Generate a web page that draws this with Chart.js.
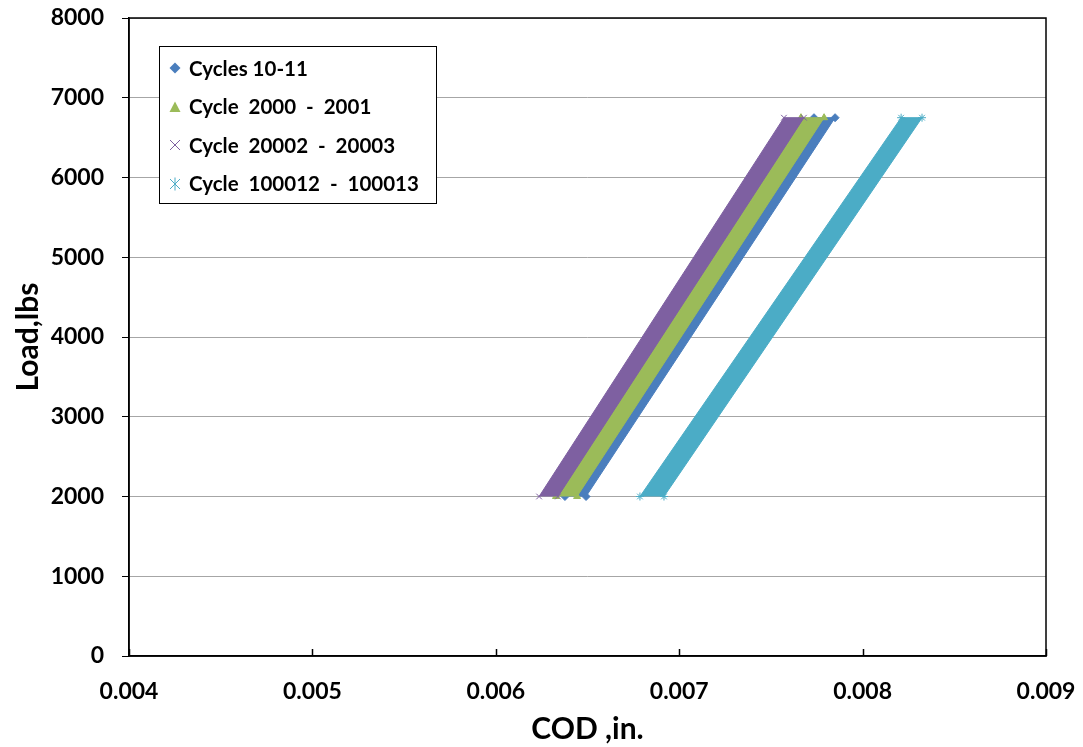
<!DOCTYPE html>
<html>
<head>
<meta charset="utf-8">
<script src="https://cdn.jsdelivr.net/npm/chart.js@4/dist/chart.umd.min.js"></script>
<style>
  html, body { margin: 0; padding: 0; background: #ffffff; }
  #wrap { width: 1083px; height: 747px; position: relative; }
</style>
</head>
<body>
<div id="wrap"><canvas id="c" width="1083" height="747"></canvas></div>
<script>
// Load range of every recorded loop: minimum and peak load (lbs)
const LOADS = [2000, 6750];

// Crack-opening displacement (in.) at the minimum and peak load,
// on the loading branch and on the unloading branch of each loop
const CYC_10_LOADING     = [0.006377, 0.007735];
const CYC_10_UNLOADING   = [0.006492, 0.007850];
const CYC_2000_LOADING   = [0.006328, 0.007664];
const CYC_2000_UNLOADING = [0.006443, 0.007790];
const CYC_20002_LOADING   = [0.006236, 0.007571];
const CYC_20002_UNLOADING = [0.006339, 0.007680];
const CYC_100012_LOADING   = [0.006786, 0.008210];
const CYC_100012_UNLOADING = [0.006917, 0.008324];

const SERIES_NAMES = [
  'Cycles 10-11',
  'Cycle  2000  -  2001',
  'Cycle  20002  -  20003',
  'Cycle  100012  -  100013'
];

const X_TICKS = [0.004, 0.005, 0.006, 0.007, 0.008, 0.009];
const Y_TICKS = [0, 1000, 2000, 3000, 4000, 5000, 6000, 7000, 8000];

const FONT = 'Lato, "Open Sans", "DejaVu Sans", sans-serif';
const COLORS = ['#4a7ebd', '#9bbb59', '#7e60a1', '#4bacc6'];
const MARKERS = ['diamond', 'triangle', 'x', 'asterisk'];

// A closed loop: up the loading branch, back down the unloading branch
function loop(loading, unloading) {
  const pts = [];
  for (let i = 0; i < LOADS.length; i++) pts.push({ x: loading[i], y: LOADS[i] });
  for (let i = LOADS.length - 1; i >= 0; i--) pts.push({ x: unloading[i], y: LOADS[i] });
  return pts;
}

// Small marker images used in the legend
function markerCanvas(kind, color) {
  const s = 16, c = document.createElement('canvas');
  c.width = s; c.height = s;
  const g = c.getContext('2d');
  const m = s / 2;
  g.fillStyle = color; g.strokeStyle = color; g.lineWidth = 1;
  if (kind === 'diamond') {
    g.beginPath(); g.moveTo(m, m - 5.5); g.lineTo(m + 5.5, m); g.lineTo(m, m + 5.5); g.lineTo(m - 5.5, m); g.closePath(); g.fill();
  } else if (kind === 'triangle') {
    g.beginPath(); g.moveTo(m, m - 5.5); g.lineTo(m + 5.5, m + 5); g.lineTo(m - 5.5, m + 5); g.closePath(); g.fill();
  } else if (kind === 'x') {
    g.beginPath(); g.moveTo(m - 5, m - 5); g.lineTo(m + 5, m + 5); g.moveTo(m + 5, m - 5); g.lineTo(m - 5, m + 5); g.stroke();
  } else {
    g.beginPath(); g.moveTo(m - 5, m - 5); g.lineTo(m + 5, m + 5); g.moveTo(m + 5, m - 5); g.lineTo(m - 5, m + 5);
    g.moveTo(m, m - 6.5); g.lineTo(m, m + 6.5); g.stroke();
  }
  return c;
}
const LEGEND_MARKERS = MARKERS.map((k, i) => markerCanvas(k, COLORS[i]));

const LOOPS = [
  loop(CYC_10_LOADING, CYC_10_UNLOADING),
  loop(CYC_2000_LOADING, CYC_2000_UNLOADING),
  loop(CYC_20002_LOADING, CYC_20002_UNLOADING),
  loop(CYC_100012_LOADING, CYC_100012_UNLOADING)
];
const POINT_STYLES = ['rectRot', 'triangle', 'crossRot', 'star'];

const datasets = LOOPS.map((pts, i) => ({
  label: SERIES_NAMES[i],
  data: pts,
  showLine: true,
  fill: 'shape',
  backgroundColor: COLORS[i],
  borderColor: COLORS[i],
  borderWidth: 1,
  pointStyle: POINT_STYLES[i],
  pointRadius: 4,
  pointBackgroundColor: COLORS[i],
  pointBorderColor: COLORS[i],
  pointBorderWidth: 1,
  // later cycles are painted over earlier ones
  order: LOOPS.length - i
}));

// Frame, inward x ticks and the boxed legend
const framePlugin = {
  id: 'frame',
  afterDraw(chart) {
    const { ctx, chartArea: a, scales } = chart;
    ctx.save();
    ctx.strokeStyle = '#000000';
    ctx.lineWidth = 1.5;
    ctx.strokeRect(a.left, a.top, a.right - a.left, a.bottom - a.top);
    X_TICKS.forEach(v => {
      const px = Math.round(scales.x.getPixelForValue(v)) + 0.5;
      ctx.beginPath(); ctx.moveTo(px, a.bottom); ctx.lineTo(px, a.bottom - 7); ctx.stroke();
    });

    // legend
    const lx = 159.5, ly = 46.5, lw = 277, lh = 157;
    ctx.fillStyle = '#ffffff';
    ctx.fillRect(lx, ly, lw, lh);
    ctx.lineWidth = 1;
    ctx.strokeStyle = '#000000';
    ctx.strokeRect(lx, ly, lw, lh);
    ctx.font = 'bold 20.5px ' + FONT;
    ctx.textBaseline = 'middle';
    ctx.textAlign = 'left';
    ctx.fillStyle = '#000000';
    chart.data.datasets.forEach((ds, i) => {
      const cy = 68 + i * 38.5;
      ctx.drawImage(LEGEND_MARKERS[i], 175 - 8, Math.round(cy) - 8);
      ctx.fillText(ds.label, 189, cy + 1);
    });
    ctx.restore();
  }
};

new Chart(document.getElementById('c'), {
  type: 'scatter',
  data: { datasets },
  plugins: [framePlugin],
  options: {
    responsive: false,
    animation: false,
    events: [],
    layout: { padding: { top: 18, right: 37, left: 0, bottom: 0 } },
    plugins: { legend: { display: false }, tooltip: { enabled: false } },
    scales: {
      x: {
        type: 'linear',
        min: 0.004, max: 0.009,
        afterBuildTicks: s => { s.ticks = X_TICKS.map(v => ({ value: v })); },
        afterFit: s => { s.height = 91; s.paddingLeft = 0; s.paddingRight = 0; },
        ticks: {
          callback: v => v.toFixed(3),
          color: '#000000',
          font: { family: FONT, size: 23, weight: 'bold' },
          padding: 22,
          maxRotation: 0
        },
        grid: { drawOnChartArea: false, drawTicks: false },
        border: { color: '#000000', width: 1.5 },
        title: {
          display: true, text: 'COD ,in.', color: '#000000',
          font: { family: FONT, size: 30, weight: 'bold' },
          padding: { top: 0, bottom: 0 }
        }
      },
      y: {
        type: 'linear',
        min: 0, max: 8000,
        afterBuildTicks: s => { s.ticks = Y_TICKS.map(v => ({ value: v })); },
        afterFit: s => { s.width = 129; s.paddingTop = 0; s.paddingBottom = 0; },
        ticks: {
          callback: v => String(v),
          color: '#000000',
          font: { family: FONT, size: 23, weight: 'bold' },
          padding: 18
        },
        grid: { color: '#a6a6a6', lineWidth: 1, tickLength: 7, tickColor: '#000000' },
        border: { color: '#000000', width: 1.5 },
        title: {
          display: true, text: 'Load,lbs', color: '#000000',
          font: { family: FONT, size: 30, weight: 'bold' },
          padding: { top: 10, bottom: 0 }
        }
      }
    }
  }
});
</script>
</body>
</html>
